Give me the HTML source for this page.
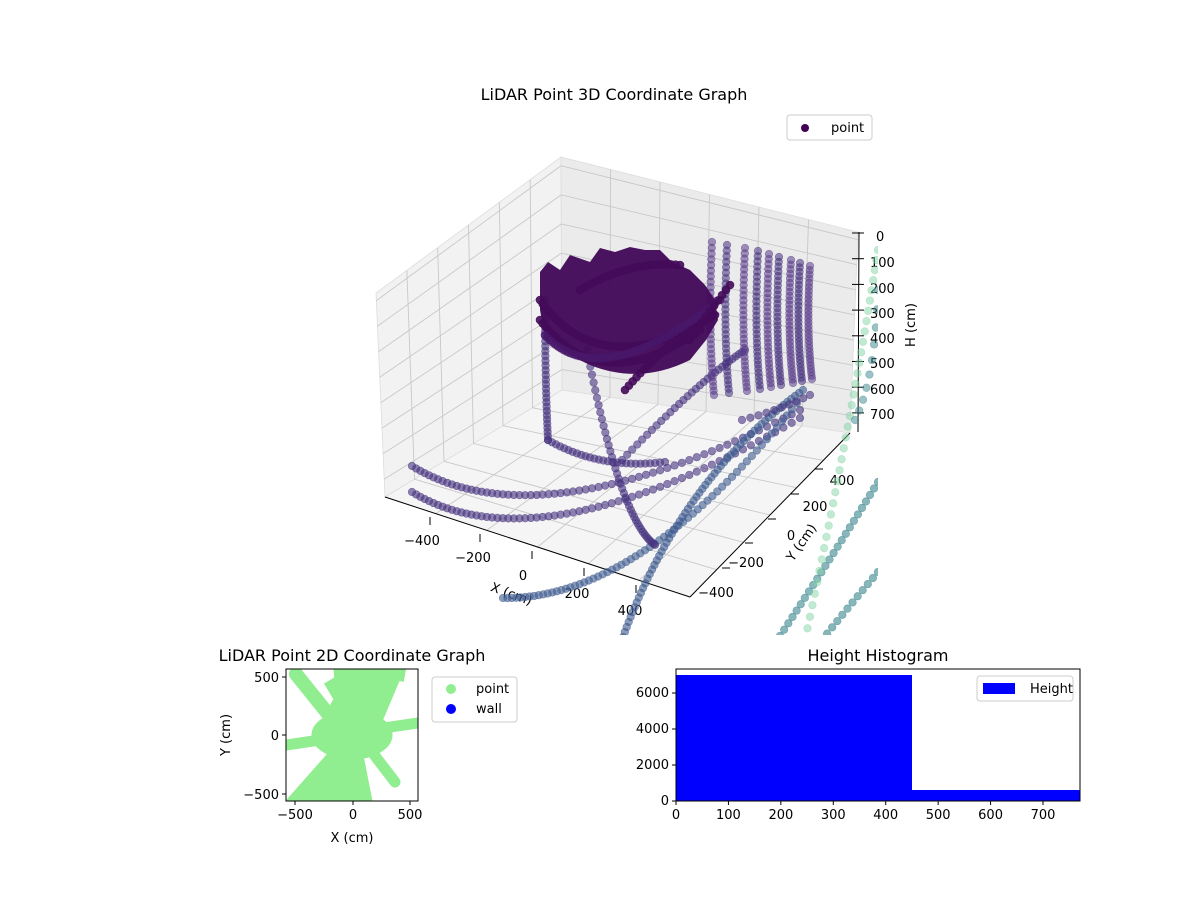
<!DOCTYPE html>
<html><head><meta charset="utf-8"><style>
body{margin:0;background:#fff;}
svg text{font-family:"DejaVu Sans","Liberation Sans",sans-serif;font-size:13px;fill:#000;}
</style></head><body>
<svg id="s" width="1200" height="900" viewBox="0 0 1200 900" xmlns="http://www.w3.org/2000/svg">
<rect width="1200" height="900" fill="#fff"/>
<text x="614" y="100" text-anchor="middle" style="font-size:16px">LiDAR Point 3D Coordinate Graph</text>
<polygon points="376,293 561,157 562,390 385,497" fill="#f2f2f2" stroke="#ddd" stroke-width="0.8"/>
<polygon points="561,157 858,232 850,433 562,390" fill="#ebebeb" stroke="#ddd" stroke-width="0.8"/>
<polygon points="385,497 562,390 850,433 690,597" fill="#f5f5f5" stroke="#ddd" stroke-width="0.8"/>
<g id="grid" stroke="#c8c8c8" stroke-width="0.9" fill="none"></g>
<line x1="385" y1="497" x2="690" y2="597" stroke="#000" stroke-width="1"/>
<line x1="690" y1="597" x2="850" y2="433" stroke="#000" stroke-width="1"/>
<line x1="859" y1="232" x2="858" y2="432" stroke="#000" stroke-width="1"/>
<g id="ticks" stroke="#000" stroke-width="1"></g>
<g font-size="13">
<text x="422" y="545" text-anchor="middle">−400</text>
<text x="473" y="562" text-anchor="middle">−200</text>
<text x="523" y="580" text-anchor="middle">0</text>
<text x="577" y="598" text-anchor="middle">200</text>
<text x="630" y="615" text-anchor="middle">400</text>
<text x="510" y="598" text-anchor="middle" transform="rotate(20 510 598)">X (cm)</text>
<text x="716" y="597" text-anchor="middle">−400</text>
<text x="746" y="567" text-anchor="middle">−200</text>
<text x="791" y="540" text-anchor="middle">0</text>
<text x="815" y="511" text-anchor="middle">200</text>
<text x="842" y="485" text-anchor="middle">400</text>
<text x="805" y="545" text-anchor="middle" transform="rotate(-55 805 545)">Y (cm)</text>
<text x="876" y="241">0</text>
<text x="870" y="267">100</text>
<text x="870" y="293">200</text>
<text x="870" y="318">300</text>
<text x="870" y="343">400</text>
<text x="870" y="368">500</text>
<text x="870" y="394">600</text>
<text x="870" y="419">700</text>
<text x="915" y="325" text-anchor="middle" transform="rotate(-90 915 325)">H (cm)</text>
</g>
<defs><clipPath id="c3"><rect x="300" y="140" width="578" height="495"/></clipPath></defs>
<g id="pts" clip-path="url(#c3)"></g>
<rect x="787" y="115" width="85" height="25" rx="3" fill="#fff" stroke="#ccc"/>
<circle cx="805" cy="128" r="4" fill="#440154"/>
<text x="831" y="132">point</text>

<text x="352" y="661" text-anchor="middle" style="font-size:16px">LiDAR Point 2D Coordinate Graph</text>
<defs><clipPath id="c2"><rect x="286" y="669" width="132" height="132"/></clipPath></defs>
<g clip-path="url(#c2)" fill="#90ee90" stroke="#90ee90">
<polygon points="334,669 404,669 372,745 330,801 286,801 340,740" />
<polygon points="320,801 350,760 355,801"/>
<polygon points="340,801 360,740 372,801"/>
<line x1="296" y1="674" x2="345" y2="735" stroke-width="14" stroke-linecap="round"/>
<line x1="330" y1="680" x2="360" y2="730" stroke-width="14"/>
<line x1="372" y1="669" x2="405" y2="675" stroke-width="14"/>
<line x1="372" y1="752" x2="395" y2="782" stroke-width="11" stroke-linecap="round"/>
<line x1="286" y1="745" x2="340" y2="737" stroke-width="11" stroke-linecap="round"/>
<line x1="370" y1="730" x2="418" y2="723" stroke-width="11" stroke-linecap="round"/>
<ellipse cx="352" cy="735" rx="40" ry="24"/>
<ellipse cx="352" cy="718" rx="24" ry="28"/>
</g>
<rect x="286" y="669" width="132" height="132" fill="none" stroke="#000"/>
<g stroke="#000"><line x1="282" y1="677" x2="286" y2="677"/><line x1="282" y1="735" x2="286" y2="735"/><line x1="282" y1="794" x2="286" y2="794"/>
<line x1="295" y1="801" x2="295" y2="805"/><line x1="353" y1="801" x2="353" y2="805"/><line x1="410" y1="801" x2="410" y2="805"/></g>
<text x="279" y="682" text-anchor="end">500</text><text x="279" y="740" text-anchor="end">0</text><text x="279" y="799" text-anchor="end">−500</text>
<text x="295" y="819" text-anchor="middle">−500</text><text x="353" y="819" text-anchor="middle">0</text><text x="410" y="819" text-anchor="middle">500</text>
<text x="352" y="842" text-anchor="middle">X (cm)</text>
<text x="230" y="735" text-anchor="middle" transform="rotate(-90 230 735)">Y (cm)</text>
<rect x="432" y="677" width="85" height="45" rx="3" fill="#fff" stroke="#ccc"/>
<circle cx="451" cy="689" r="5" fill="#90ee90"/><text x="476" y="693">point</text>
<circle cx="451" cy="709" r="5" fill="#0000ff"/><text x="476" y="713">wall</text>

<text x="878" y="661" text-anchor="middle" style="font-size:16px">Height Histogram</text>
<rect x="676" y="675" width="236" height="126" fill="#0000ff"/>
<rect x="912" y="790" width="168" height="11" fill="#0000ff"/>
<rect x="676" y="669" width="404" height="132" fill="none" stroke="#000"/>
<g stroke="#000" id="ht"></g>
<text x="669" y="805" text-anchor="end">0</text><text x="669" y="769" text-anchor="end">2000</text>
<text x="669" y="733" text-anchor="end">4000</text><text x="669" y="697" text-anchor="end">6000</text>
<g id="hx"></g>
<rect x="977" y="676" width="96" height="25" rx="3" fill="#fff" stroke="#ccc"/>
<rect x="983" y="683" width="32" height="11" fill="#0000ff"/>
<text x="1030" y="693">Height</text>
</svg>
<script>
var NS="http://www.w3.org/2000/svg",s=document.getElementById('s');
function el(p,t,a){var e=document.createElementNS(NS,t);for(var k in a)e.setAttribute(k,a[k]);p.appendChild(e);return e;}
var g=document.getElementById('grid'),tk=document.getElementById('ticks'),P=document.getElementById('pts');
function L(a,b,t){return [a[0]+(b[0]-a[0])*t,a[1]+(b[1]-a[1])*t];}
var A=[376,293],B=[561,157],C=[858,232],Ab=[385,497],Bb=[562,390],Cb=[850,433],F=[690,597];
for(var i=1;i<6;i++){var t=i/6;var p=L(A,B,t),q=L(Ab,Bb,t);el(g,'line',{x1:p[0],y1:p[1],x2:q[0],y2:q[1]});
 p=L(B,C,t);q=L(Bb,Cb,t);el(g,'line',{x1:p[0],y1:p[1],x2:q[0],y2:q[1]});}
for(var i=0;i<8;i++){var t=(i+0.3)/8;var p=L(A,Ab,t),q=L(B,Bb,t),r=L(C,Cb,t);
 el(g,'polyline',{points:p+' '+q+' '+r});}
for(var i=1;i<6;i++){var t=i/6;var p=L(Ab,F,t),q=L(Bb,Cb,t);el(g,'line',{x1:p[0],y1:p[1],x2:q[0],y2:q[1]});
 p=L(F,Cb,t);q=L(Ab,Bb,t);el(g,'line',{x1:p[0],y1:p[1],x2:q[0],y2:q[1]});}
[[430,525],[480,542],[532,559],[584,576],[636,593]].forEach(function(p){el(tk,'line',{x1:p[0],y1:p[1]-8,x2:p[0],y2:p[1]});});
for(var i=0;i<8;i++){var y=233+i*25.7;el(tk,'line',{x1:852,y1:y,x2:864,y2:y});}
[[722,568],[745,543],[768,519],[791,494],[815,469]].forEach(function(p){el(tk,'line',{x1:p[0],y1:p[1],x2:p[0]+8,y2:p[1]});});
function Q(p0,p1,p2,n,col,r,op){for(var i=0;i<=n;i++){var t=i/n,u=1-t;
 var x=u*u*p0[0]+2*u*t*p1[0]+t*t*p2[0],y=u*u*p0[1]+2*u*t*p1[1]+t*t*p2[1];
 el(P,'circle',{cx:x,cy:y,r:r||3.8,fill:col,'fill-opacity':op||0.6,stroke:col,'stroke-opacity':op||0.6,'stroke-width':0.6});}}
var M='#46327e',D='#440b5a',BL='#3f5c8f',T='#39868c',G='#86d5a8';
Q([878,482],[830,560],[780,636],24,T,3.8,0.6);
Q([878,572],[850,605],[822,640],11,T,3.8,0.6);
Q([878,250],[850,430],[805,640],36,G,3.8,0.5);
Q([878,290],[875,380],[855,420],9,T,3.8,0.5);
Q([412,466],[540,545],[800,410],62,M);
Q([412,492],[540,570],[800,418],62,M);
Q([503,598],[640,600],[797,403],62,BL);
Q([587,350],[620,520],[655,545],40,M);
Q([623,637],[680,480],[803,390],62,BL,3.8,0.6);
Q([545,300],[545,380],[548,440],30,M);
Q([548,440],[600,470],[665,462],26,M);
Q([622,460],[700,380],[745,350],30,M);
[712,727,745,758,769,779,791,800,810].forEach(function(x,i){Q([x,242+i*3],[x-4,330],[x+2,395-i*2],30,i%2?M:'#5a3d8a',3.8,0.55);});
Q([742,420],[780,410],[810,395],9,M);
el(P,'path',{d:'M540,272 L548,262 560,270 570,255 590,262 600,248 615,252 630,247 645,250 660,250 672,262 690,270 705,285 715,300 718,320 706,340 690,360 Q640,385 590,365 Q545,345 540,310 Z',fill:D,'fill-opacity':0.97});
Q([540,320],[600,400],[700,330],45,D,4,0.9);
Q([540,300],[600,385],[715,315],45,D,4,0.9);
Q([625,390],[660,350],[690,330],18,D,4,0.9);
Q([545,335],[600,395],[720,300],45,'#48186a',4,0.8);
Q([580,290],[630,260],[680,265],22,D,4,0.9);
Q([690,340],[710,310],[730,285],10,D,4,0.9);
var hx=document.getElementById('hx'),ht=document.getElementById('ht');
for(var v=0;v<=700;v+=100){var x=676+v*0.5243;el(ht,'line',{x1:x,y1:801,x2:x,y2:805});var t=el(hx,'text',{x:x,y:819,'text-anchor':'middle'});t.textContent=v;}
[801,765,729,693].forEach(function(y){el(ht,'line',{x1:672,y1:y,x2:676,y2:y});});
</script>
</body></html>
